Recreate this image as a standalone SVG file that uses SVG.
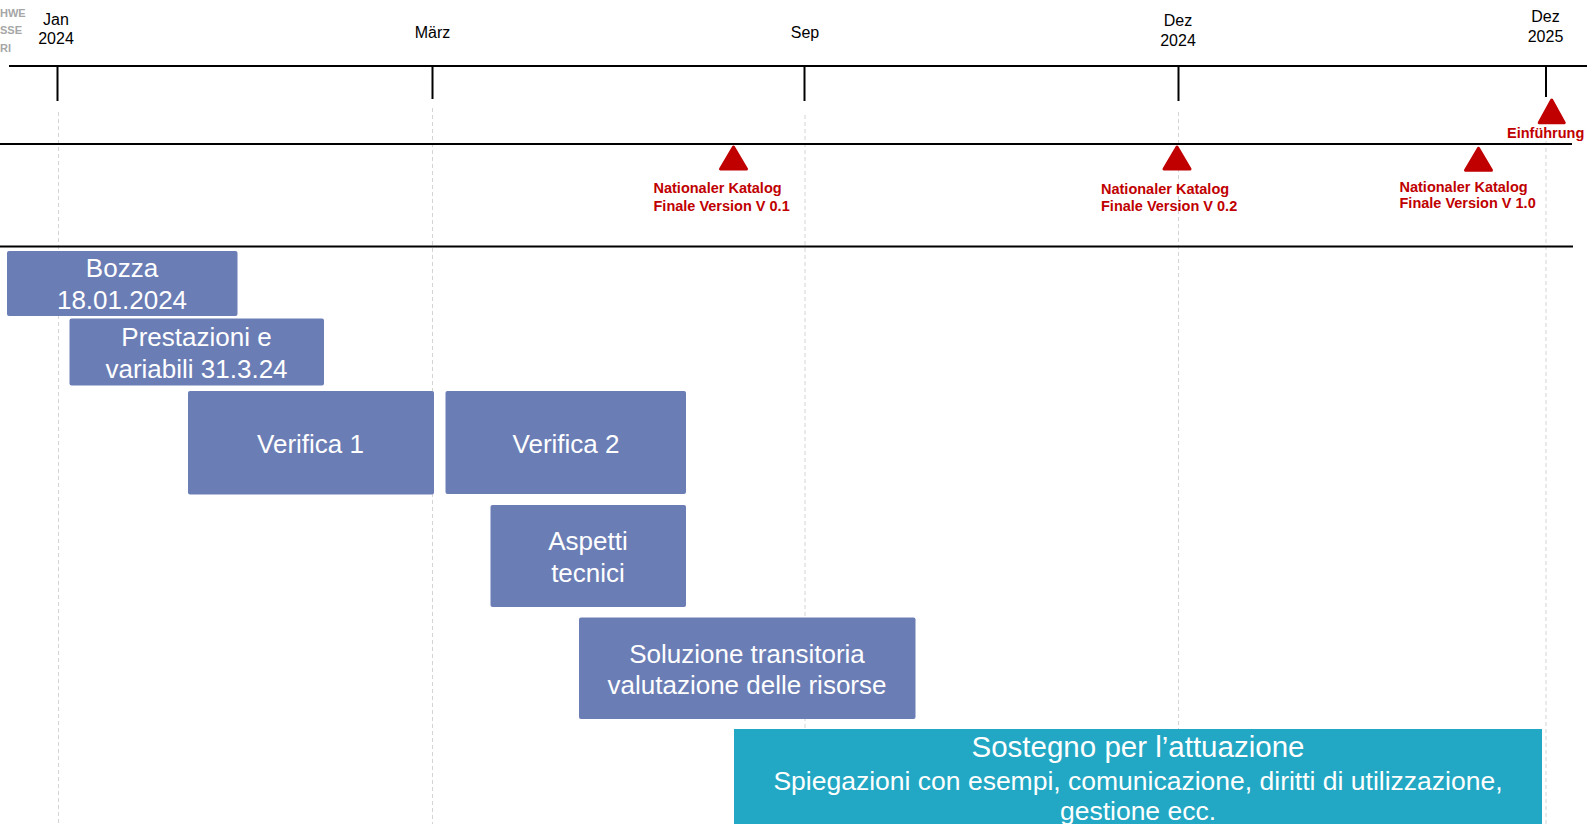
<svg xmlns="http://www.w3.org/2000/svg" width="1587" height="824" viewBox="0 0 1587 824">
<style>
text{font-family:"Liberation Sans",Arial,sans-serif}
.axis{stroke:#000;stroke-width:2;fill:none}
.grid{stroke:#d4d4d4;stroke-width:1;stroke-dasharray:4 3;fill:none}
.lbl{font-size:16px;fill:#000;text-anchor:middle}
.logo{font-size:11px;font-weight:bold;fill:#a6a6a6}
.ms{fill:#c00000;stroke:#c00000;stroke-width:3;stroke-linejoin:round}
.mst{font-size:14.5px;font-weight:bold;fill:#c00000}
.box{fill:#6b7db5}
.bt{font-size:26px;fill:#fff;text-anchor:middle}
.teal{fill:#22a8c4}
</style>
<rect width="1587" height="824" fill="#fff"/>
<g id="logo">
<text class="logo" x="0" y="17">HWE</text>
<text class="logo" x="0" y="34">SSE</text>
<text class="logo" x="0" y="51.5">RI</text>
</g>
<g id="grid">
<line class="grid" x1="58.5" y1="112" x2="58.5" y2="824"/>
<line class="grid" x1="432.5" y1="108" x2="432.5" y2="824"/>
<line class="grid" x1="805" y1="115" x2="805" y2="824"/>
<line class="grid" x1="1178.5" y1="112" x2="1178.5" y2="824"/>
<line class="grid" x1="1546" y1="141" x2="1546" y2="824"/>
</g>
<g id="timeline">
<line class="axis" x1="9" y1="66" x2="1587" y2="66"/>
<line class="axis" x1="57.5" y1="66" x2="57.5" y2="101"/>
<line class="axis" x1="432.5" y1="66" x2="432.5" y2="99"/>
<line class="axis" x1="804.5" y1="66" x2="804.5" y2="101"/>
<line class="axis" x1="1178.5" y1="66" x2="1178.5" y2="101"/>
<line class="axis" x1="1546" y1="66" x2="1546" y2="97"/>
<line class="axis" x1="0" y1="144" x2="1572" y2="144"/>
<line class="axis" x1="0" y1="246.5" x2="1573" y2="246.5"/>
<text class="lbl" x="56" y="24.5">Jan</text>
<text class="lbl" x="56" y="43.5">2024</text>
<text class="lbl" x="432.5" y="38">März</text>
<text class="lbl" x="805" y="38">Sep</text>
<text class="lbl" x="1178" y="26">Dez</text>
<text class="lbl" x="1178" y="45.5">2024</text>
<text class="lbl" x="1545.5" y="21.5">Dez</text>
<text class="lbl" x="1545.5" y="42">2025</text>
</g>
<g id="ms-einfuehrung">
<polygon class="ms" points="1551.7,100 1539.2,122.8 1564.2,122.8"/>
<text class="mst" x="1507" y="138.3">Einführung</text>
</g>
<g id="ms-v01">
<polygon class="ms" points="733.5,147 720.5,169 746.5,169"/>
<text class="mst" x="653.5" y="193">Nationaler Katalog</text>
<text class="mst" x="653.5" y="210.5">Finale Version V 0.1</text>
</g>
<g id="ms-v02">
<polygon class="ms" points="1177,147 1164,169 1190,169"/>
<text class="mst" x="1101" y="194">Nationaler Katalog</text>
<text class="mst" x="1101" y="210.5">Finale Version V 0.2</text>
</g>
<g id="ms-v10">
<polygon class="ms" points="1478.5,148.3 1465.5,170.2 1491.5,170.2"/>
<text class="mst" x="1399.5" y="191.5">Nationaler Katalog</text>
<text class="mst" x="1399.5" y="207.5">Finale Version V 1.0</text>
</g>
<g id="bozza">
<rect class="box" x="7" y="251" width="230.5" height="65" rx="2"/>
<text class="bt" x="122" y="277">Bozza</text>
<text class="bt" x="122" y="308.5">18.01.2024</text>
</g>
<g id="prestazioni">
<rect class="box" x="69.5" y="318.5" width="254.5" height="67" rx="2"/>
<text class="bt" x="196.5" y="345.5">Prestazioni e</text>
<text class="bt" x="196.5" y="377.5">variabili 31.3.24</text>
</g>
<g id="verifica1">
<rect class="box" x="188" y="391" width="246" height="103.5" rx="2"/>
<text class="bt" x="310.5" y="452.5">Verifica 1</text>
</g>
<g id="verifica2">
<rect class="box" x="445.5" y="391" width="240.5" height="103" rx="2"/>
<text class="bt" x="566" y="452.5">Verifica 2</text>
</g>
<g id="aspetti">
<rect class="box" x="490.5" y="505" width="195.5" height="102" rx="2"/>
<text class="bt" x="588" y="550">Aspetti</text>
<text class="bt" x="588" y="581.5">tecnici</text>
</g>
<g id="soluzione">
<rect class="box" x="579" y="617.5" width="336.5" height="101.5" rx="2"/>
<text class="bt" x="747" y="662.5">Soluzione transitoria</text>
<text class="bt" x="747" y="694">valutazione delle risorse</text>
</g>
<g id="sostegno">
<rect class="teal" x="734" y="729" width="808" height="100"/>
<text class="bt" x="1138" y="757" style="font-size:29.5px">Sostegno per l’attuazione</text>
<text class="bt" x="1138" y="789.5" style="font-size:26.5px">Spiegazioni con esempi, comunicazione, diritti di utilizzazione,</text>
<text class="bt" x="1138" y="820" style="font-size:26.5px">gestione ecc.</text>
</g>
<g id="connectors"></g>
</svg>
